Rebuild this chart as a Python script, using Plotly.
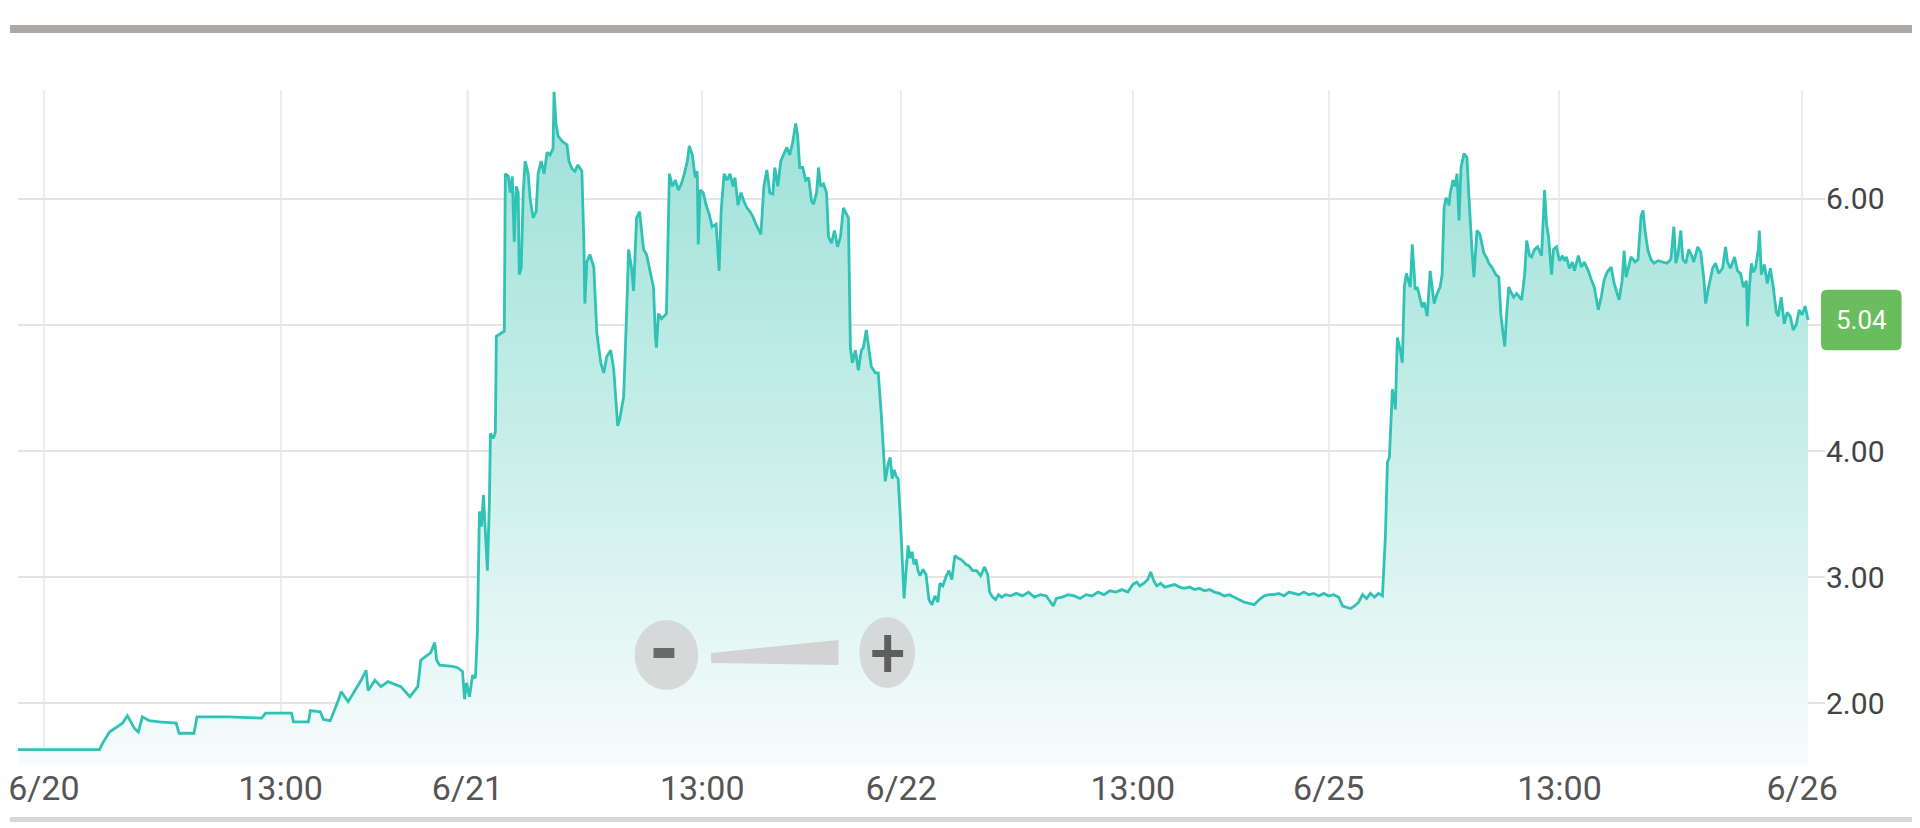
import plotly.graph_objects as go

# Session time index (one unit per chart column) and last price
t = [
    0, 8, 90, 93, 100, 106, 113, 118, 121, 125, 129, 133, 140, 150, 167, 170, 185, 188, 220, 253,
    257, 283, 285, 300, 302, 312, 315, 322, 330, 333, 340, 347, 353, 358, 360, 367, 373, 380, 393, 402,
    410, 413, 423, 427, 429, 432, 445, 450, 455, 457, 459, 462, 465, 468, 470, 472, 474, 476, 478, 480,
    482, 483, 486, 488, 489, 493, 497, 498, 501, 503, 505, 507, 509, 511, 512, 514, 516, 518, 521, 523,
    526, 529, 531, 534, 537, 540, 543, 546, 547, 549, 551, 555, 560, 562, 565, 568, 571, 575, 577, 578,
    580, 583, 587, 590, 594, 597, 600, 604, 607, 609, 611, 613, 617, 620, 622, 625, 627, 630, 633, 635,
    637, 640, 643, 647, 649, 650, 652, 655, 660, 662, 663, 666, 669, 672, 675, 678, 681, 683, 686, 689,
    691, 692, 694, 697, 700, 703, 706, 710, 713, 715, 718, 721, 724, 727, 729, 732, 735, 738, 741, 744,
    747, 750, 753, 755, 758, 761, 764, 767, 769, 772, 775, 778, 781, 784, 787, 790, 792, 794, 797, 800,
    803, 806, 808, 811, 813, 815, 818, 821, 823, 826, 829, 832, 835, 838, 841, 843, 845, 847, 850, 853,
    856, 858, 861, 863, 866, 870, 873, 876, 878, 880, 883, 885, 887, 889, 891, 893, 895, 897, 899, 901,
    903, 905, 907, 909, 911, 913, 915, 918, 921, 924, 927, 930, 933, 935, 938, 941, 944, 947, 950, 953,
    956, 959, 961, 964, 968, 972, 976, 980, 983, 985, 988, 991, 994, 997, 1001, 1006, 1012, 1018, 1024, 1030,
    1036, 1042, 1046, 1049, 1052, 1058, 1064, 1070, 1076, 1082, 1088, 1094, 1100, 1106, 1112, 1118, 1124, 1129, 1133, 1136,
    1140, 1144, 1147, 1150, 1153, 1157, 1161, 1166, 1171, 1176, 1181, 1186, 1191, 1196, 1201, 1206, 1211, 1216, 1221, 1226,
    1231, 1236, 1241, 1246, 1251, 1256, 1261, 1266, 1271, 1276, 1281, 1286, 1291, 1296, 1301, 1306, 1311, 1316, 1321, 1326,
    1331, 1336, 1340, 1344, 1348, 1352, 1356, 1360, 1364, 1368, 1372, 1376, 1380, 1383, 1385, 1387, 1390, 1392, 1393, 1395,
    1398, 1400, 1402, 1404, 1406, 1408, 1410, 1412, 1413, 1415, 1418, 1420, 1422, 1425, 1428, 1430, 1432, 1435, 1438, 1440,
    1442, 1444, 1447, 1448, 1451, 1453, 1455, 1457, 1459, 1462, 1465, 1467, 1468, 1470, 1472, 1474, 1475, 1478, 1482, 1485,
    1487, 1490, 1494, 1497, 1499, 1501, 1503, 1505, 1507, 1510, 1512, 1515, 1518, 1520, 1523, 1525, 1528, 1530, 1533, 1536,
    1540, 1543, 1545, 1547, 1550, 1552, 1555, 1558, 1561, 1563, 1565, 1568, 1571, 1573, 1577, 1580, 1583, 1587, 1590, 1593,
    1597, 1600, 1603, 1606, 1610, 1613, 1616, 1618, 1621, 1623, 1625, 1627, 1630, 1634, 1637, 1640, 1642, 1644, 1647, 1650,
    1653, 1657, 1662, 1666, 1670, 1673, 1675, 1677, 1680, 1682, 1685, 1688, 1691, 1693, 1697, 1700, 1703, 1705, 1708, 1712,
    1715, 1718, 1722, 1725, 1727, 1730, 1734, 1737, 1740, 1743, 1746, 1747, 1749, 1751, 1753, 1755, 1758, 1759, 1761, 1764,
    1767, 1770, 1773, 1776, 1778, 1781, 1784, 1787, 1790, 1793, 1796, 1799, 1802, 1805, 1808,
]
price = [
    1.64, 1.63, 1.63, 1.68, 1.77, 1.80, 1.84, 1.90, 1.86, 1.80, 1.77, 1.89, 1.86, 1.85, 1.84, 1.76, 1.76, 1.89, 1.89, 1.88,
    1.92, 1.92, 1.85, 1.85, 1.94, 1.93, 1.87, 1.86, 2.02, 2.09, 2.01, 2.10, 2.18, 2.26, 2.10, 2.18, 2.13, 2.17, 2.13, 2.05,
    2.13, 2.34, 2.40, 2.48, 2.34, 2.30, 2.29, 2.28, 2.25, 2.03, 2.16, 2.05, 2.22, 2.20, 2.58, 3.52, 3.40, 3.65, 3.30, 3.05,
    3.59, 4.14, 4.10, 4.15, 4.91, 4.93, 4.95, 6.20, 6.18, 6.05, 6.18, 5.66, 6.10, 6.05, 5.40, 5.45, 6.05, 6.30, 6.20, 6.00,
    5.85, 5.90, 6.20, 6.30, 6.20, 6.37, 6.35, 6.40, 6.85, 6.60, 6.50, 6.46, 6.43, 6.30, 6.24, 6.22, 6.27, 6.22, 5.66, 5.17,
    5.50, 5.56, 5.46, 4.94, 4.70, 4.62, 4.75, 4.80, 4.65, 4.43, 4.20, 4.25, 4.43, 5.10, 5.60, 5.45, 5.27, 5.85, 5.90, 5.75,
    5.60, 5.56, 5.45, 5.30, 4.90, 4.82, 5.09, 5.05, 5.09, 5.80, 6.20, 6.10, 6.15, 6.07, 6.12, 6.20, 6.30, 6.42, 6.35, 6.17,
    6.22, 5.64, 6.07, 6.05, 5.95, 5.88, 5.78, 5.80, 5.43, 5.90, 6.20, 6.15, 6.20, 6.10, 6.17, 5.95, 6.05, 5.98, 5.93, 5.90,
    5.86, 5.80, 5.75, 5.72, 6.10, 6.23, 6.05, 6.04, 6.25, 6.10, 6.30, 6.35, 6.41, 6.35, 6.45, 6.60, 6.50, 6.25, 6.25, 6.15,
    6.17, 5.98, 5.96, 6.05, 6.25, 6.10, 6.12, 6.05, 5.70, 5.65, 5.75, 5.62, 5.70, 5.93, 5.88, 5.85, 4.82, 4.70, 4.80, 4.64,
    4.80, 4.82, 4.96, 4.85, 4.67, 4.62, 4.62, 4.30, 4.00, 3.76, 3.90, 3.95, 3.78, 3.85, 3.80, 3.78, 3.50, 3.20, 2.83, 3.05,
    3.25, 3.15, 3.20, 3.10, 3.14, 3.05, 3.01, 3.06, 3.02, 2.82, 2.78, 2.85, 2.80, 2.95, 2.93, 3.00, 3.05, 2.98, 3.17, 3.15,
    3.14, 3.12, 3.10, 3.09, 3.05, 3.05, 3.01, 3.08, 3.02, 2.88, 2.84, 2.82, 2.86, 2.84, 2.86, 2.85, 2.87, 2.85, 2.88, 2.84,
    2.86, 2.85, 2.80, 2.77, 2.83, 2.84, 2.86, 2.85, 2.83, 2.86, 2.85, 2.88, 2.86, 2.89, 2.88, 2.90, 2.88, 2.94, 2.96, 2.93,
    2.95, 2.98, 3.04, 2.97, 2.93, 2.95, 2.92, 2.93, 2.94, 2.92, 2.91, 2.92, 2.90, 2.91, 2.89, 2.90, 2.88, 2.87, 2.85, 2.86,
    2.84, 2.82, 2.80, 2.79, 2.78, 2.82, 2.85, 2.86, 2.86, 2.87, 2.85, 2.88, 2.87, 2.86, 2.88, 2.86, 2.87, 2.85, 2.87, 2.85,
    2.86, 2.84, 2.77, 2.76, 2.75, 2.77, 2.80, 2.86, 2.83, 2.87, 2.84, 2.87, 2.85, 3.33, 3.91, 3.95, 4.49, 4.40, 4.33, 4.90,
    4.80, 4.70, 5.30, 5.41, 5.35, 5.30, 5.64, 5.40, 5.28, 5.30, 5.20, 5.14, 5.18, 5.07, 5.43, 5.30, 5.17, 5.25, 5.30, 5.40,
    5.93, 6.01, 5.95, 6.04, 6.15, 6.10, 6.20, 5.83, 6.25, 6.36, 6.33, 6.01, 5.83, 5.60, 5.38, 5.65, 5.75, 5.72, 5.57, 5.53,
    5.49, 5.46, 5.40, 5.38, 5.09, 4.95, 4.83, 5.10, 5.30, 5.25, 5.22, 5.25, 5.22, 5.20, 5.40, 5.67, 5.55, 5.54, 5.60, 5.62,
    5.55, 6.07, 5.80, 5.70, 5.40, 5.60, 5.62, 5.51, 5.55, 5.51, 5.54, 5.45, 5.50, 5.43, 5.55, 5.46, 5.50, 5.43, 5.36, 5.30,
    5.12, 5.22, 5.36, 5.42, 5.46, 5.33, 5.25, 5.20, 5.35, 5.59, 5.38, 5.45, 5.54, 5.50, 5.52, 5.86, 5.91, 5.75, 5.59, 5.52,
    5.49, 5.51, 5.50, 5.49, 5.52, 5.78, 5.49, 5.55, 5.75, 5.52, 5.49, 5.60, 5.55, 5.50, 5.62, 5.58, 5.38, 5.17, 5.30, 5.45,
    5.49, 5.41, 5.45, 5.62, 5.50, 5.45, 5.54, 5.43, 5.41, 5.30, 5.35, 4.99, 5.30, 5.49, 5.42, 5.45, 5.60, 5.75, 5.40, 5.48,
    5.33, 5.45, 5.30, 5.10, 5.07, 5.22, 5.01, 5.10, 5.07, 4.96, 5.00, 5.12, 5.08, 5.15, 5.04,
]

# x-axis ticks (day boundaries and 13:00 marks)
tick_pos = [34, 272, 460, 696, 896, 1129, 1326, 1558, 1802]
tick_text = ["6/20", "13:00", "6/21", "13:00", "6/22", "13:00", "6/25", "13:00", "6/26"]
y_ticks = [2, 3, 4, 5, 6]
last_price = price[-1]

# page body has an 8px margin, so the figure starts at screen (8, 8)
OFF = 8
LEFT, RIGHT, TOP, BOTTOM = 8, 1825, 90, 765  # plot area on screen
FONT = "Roboto, Liberation Sans, sans-serif"


def px(x):
    return (x - LEFT) / (RIGHT - LEFT)


def py(y):
    return (BOTTOM - y) / (BOTTOM - TOP)


fig = go.Figure()

fig.add_trace(
    go.Scatter(
        x=t,
        y=price,
        mode="lines",
        line=dict(color="#30c2b4", width=2.8),
        fill="tozeroy",
        fillgradient=dict(
            type="vertical",
            start=1.5,
            stop=6.85,
            colorscale=[[0, "#f7fcfc"], [0.45, "#cbefea"], [1, "#9be0d8"]],
        ),
        hoverinfo="skip",
    )
)

# darker gridlines on day boundaries
for pos, txt in zip(tick_pos, tick_text):
    if "/" in txt:
        fig.add_shape(
            type="line", xref="x", yref="paper", x0=pos, x1=pos, y0=0, y1=1,
            line=dict(color="#d2d2d2", width=1.5), layer="below",
        )

# frame lines of the widget
fig.add_shape(type="rect", xref="paper", yref="paper", x0=px(0), x1=px(1920), y0=py(33), y1=py(25),
              fillcolor="#aca8a8", line=dict(width=0))
fig.add_shape(type="rect", xref="paper", yref="paper", x0=px(0), x1=px(1920), y0=py(822), y1=py(817),
              fillcolor="#d8d8d8", line=dict(width=0))

# zoom control (- slider +)
fig.add_shape(type="circle", xref="paper", yref="paper", x0=px(628), x1=px(692), y0=py(690), y1=py(620),
              fillcolor="rgba(212,212,212,0.85)", line=dict(width=0))
fig.add_shape(type="rect", xref="paper", yref="paper", x0=px(647), x1=px(668), y0=py(658), y1=py(648),
              fillcolor="#6a6a6a", line=dict(width=0))
fig.add_shape(type="path", xref="paper", yref="paper",
              path=f"M {px(705)},{py(653)} L {px(833)},{py(640)} L {px(833)},{py(665)} L {px(705)},{py(663)} Z",
              fillcolor="#d3d3d3", line=dict(width=0))
fig.add_shape(type="circle", xref="paper", yref="paper", x0=px(854), x1=px(910), y0=py(688), y1=py(617),
              fillcolor="rgba(212,212,212,0.85)", line=dict(width=0))
fig.add_shape(type="rect", xref="paper", yref="paper", x0=px(867), x1=px(898), y0=py(657), y1=py(650),
              fillcolor="#5e5e5e", line=dict(width=0))
fig.add_shape(type="rect", xref="paper", yref="paper", x0=px(879), x1=px(886), y0=py(672), y1=py(635),
              fillcolor="#5e5e5e", line=dict(width=0))

# last price badge: rounded green box centred on the last price
bx0, bx1 = px(1821), px(1902)
rx = px(1827) - px(1821)
h, ry = 0.24, 0.05
yb, yt = last_price - h, last_price + h
badge = (
    f"M {bx0 + rx},{yb} L {bx1 - rx},{yb} Q {bx1},{yb} {bx1},{yb + ry} "
    f"L {bx1},{yt - ry} Q {bx1},{yt} {bx1 - rx},{yt} L {bx0 + rx},{yt} "
    f"Q {bx0},{yt} {bx0},{yt - ry} L {bx0},{yb + ry} Q {bx0},{yb} {bx0 + rx},{yb} Z"
)
fig.add_shape(type="path", xref="paper", yref="y", path=badge, fillcolor="#69bd5d", line=dict(width=0))
fig.add_annotation(
    x=(bx0 + bx1) / 2, xref="paper", xanchor="center",
    y=last_price, yref="y", yanchor="middle",
    text=f"{last_price:.2f}", showarrow=False,
    font=dict(family=FONT, size=26, color="white"),
)

# the badge hides the tick label nearest to the last price
y_labels = ["" if abs(v - last_price) < 0.25 else f"{v:.2f}" for v in y_ticks]

fig.update_layout(
    width=1920,
    height=828,
    margin=dict(l=0, r=1920 - (RIGHT - OFF), t=TOP - OFF, b=828 - (BOTTOM - OFF)),
    plot_bgcolor="white",
    paper_bgcolor="white",
    showlegend=False,
    font=dict(family=FONT, color="#444444"),
    xaxis=dict(
        range=[LEFT, RIGHT],
        tickvals=tick_pos,
        ticktext=tick_text,
        showgrid=True,
        gridcolor="#ececec",
        gridwidth=1.5,
        zeroline=False,
        showline=False,
        ticks="",
        ticklabeloverflow="allow",
        tickfont=dict(size=34, color="#555555"),
        fixedrange=True,
    ),
    yaxis=dict(
        side="right",
        range=[1.508, 6.865],
        tickvals=y_ticks,
        ticktext=y_labels,
        showgrid=True,
        gridcolor="#e4e4e4",
        gridwidth=1.5,
        zeroline=False,
        showline=False,
        ticks="",
        tickfont=dict(size=30, color="#444444"),
        fixedrange=True,
    ),
)

fig.write_html("out.html")
